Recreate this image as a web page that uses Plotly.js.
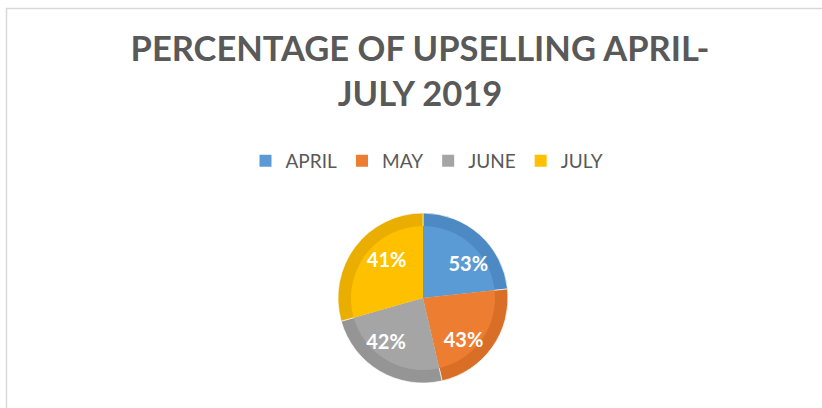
<!DOCTYPE html>
<html>
<head>
<meta charset="utf-8">
<script src="https://cdn.plot.ly/plotly-3.0.1.min.js"></script>
<style>
html,body{margin:0;padding:0;background:#fff;}
#chart{width:822px;height:408px;}
</style>
</head>
<body>
<div id="chart"></div>
<script>
// Data
var months = ['APRIL', 'MAY', 'JUNE', 'JULY'];
var sliceShares = [23.3, 23.1, 24.2, 29.4];      // slice sizes as drawn
var dataLabels = ['53%', '43%', '42%', '41%'];    // data labels as printed
var mainColors = ['#5b9bd5', '#ed7d31', '#a5a5a5', '#ffc000'];
var edgeColors = ['#4d89c2', '#d96f26', '#959595', '#e9ae00'];

var W = 822, H = 408;
var cx = 423, cy = 298, rOuter = 85, rInner = 72, rText = 96;
function dom(r) {
  return {
    x: [(cx - r) / W, (cx + r) / W],
    y: [(H - cy - r) / H, (H - cy + r) / H]
  };
}

var common = {
  type: 'pie',
  labels: months,
  values: sliceShares,
  sort: false,
  direction: 'clockwise',
  rotation: 0,
  hoverinfo: 'skip'
};

var outer = Object.assign({}, common, {
  domain: dom(rOuter),
  marker: {colors: edgeColors, line: {color: 'rgba(255,255,255,0.6)', width: 1}},
  textinfo: 'none',
  showlegend: false
});

var inner = Object.assign({}, common, {
  domain: dom(rInner),
  marker: {colors: mainColors, line: {color: 'rgba(255,255,255,0)', width: 0}},
  textinfo: 'none'
});

// invisible layer carrying the data labels (Excel "best fit" placement)
var labelLayer = Object.assign({}, common, {
  domain: dom(rText),
  rotation: 10,
  text: dataLabels,
  marker: {colors: ['rgba(0,0,0,0)', 'rgba(0,0,0,0)', 'rgba(0,0,0,0)', 'rgba(0,0,0,0)'],
           line: {color: 'rgba(0,0,0,0)', width: 0}},
  textinfo: 'text',
  textposition: 'inside',
  insidetextorientation: 'horizontal',
  insidetextfont: {family: 'Lato, sans-serif', size: 20, color: '#ffffff', weight: 'bold'},
  showlegend: false
});

var layout = {
  width: W,
  height: H,
  margin: {l: 0, r: 0, t: 0, b: 0},
  paper_bgcolor: '#ffffff',
  title: {
    text: 'PERCENTAGE OF UPSELLING APRIL-<br>JULY 2019',
    font: {family: 'Lato, sans-serif', size: 34.5, color: '#595959', weight: 'bold'},
    x: 420 / W,
    xanchor: 'center',
    xref: 'container',
    y: 1 - 61 / H,
    yanchor: 'top',
    yref: 'container'
  },
  legend: {
    orientation: 'h',
    x: 427 / W,
    xanchor: 'center',
    y: (H - 161) / H,
    yanchor: 'middle',
    font: {family: 'Lato, sans-serif', size: 19, color: '#595959'},
    traceorder: 'normal'
  },
  shapes: [{
    type: 'rect',
    xref: 'paper', yref: 'paper',
    x0: 6.5 / W, x1: 1.05,
    y0: -0.05, y1: (H - 8.5) / H,
    line: {color: '#d9d9d9', width: 1.5},
    fillcolor: 'rgba(0,0,0,0)',
    layer: 'below'
  }]
};

Plotly.newPlot('chart', [outer, inner, labelLayer], layout, {displayModeBar: false, staticPlot: true});
</script>
</body>
</html>
